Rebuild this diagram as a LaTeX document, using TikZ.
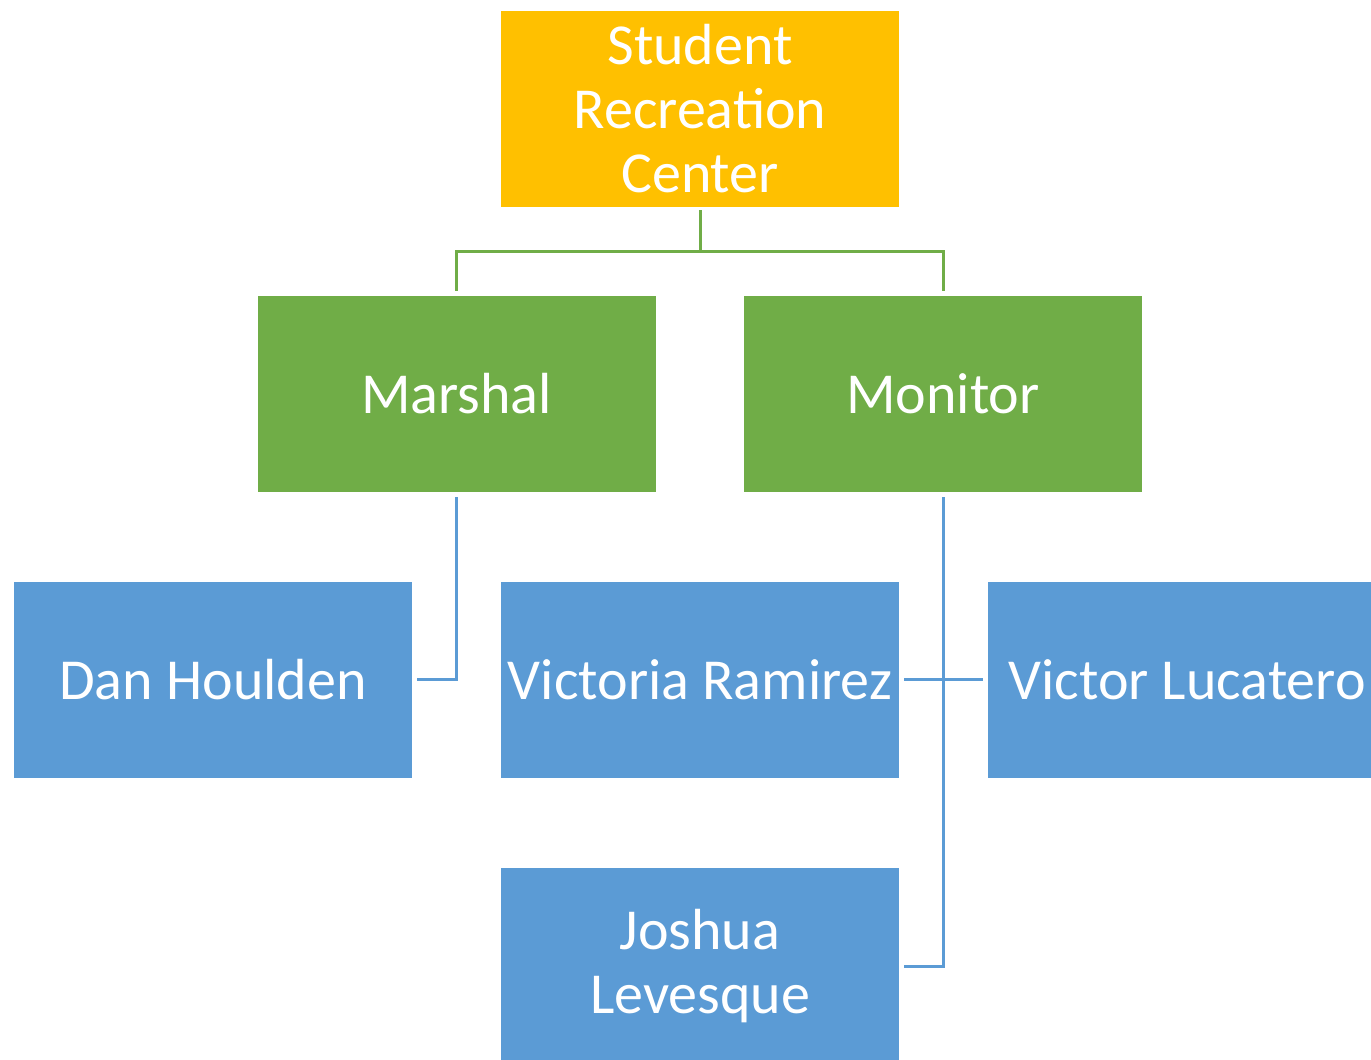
\documentclass[tikz,border=0pt]{standalone}
\usepackage{fontspec}
\setmainfont{Carlito}
\definecolor{orgbox}{HTML}{FFC000}
\definecolor{grnbox}{HTML}{70AD47}
\definecolor{blubox}{HTML}{5B9BD5}
\tikzset{
  orgnode/.style={draw=white, line width=2pt, minimum width=400pt, minimum height=198pt,
    inner sep=0pt, text=white, align=center, font=\fontsize{58}{64}\selectfont},
  lvlone/.style={orgnode, fill=orgbox},
  lvltwo/.style={orgnode, fill=grnbox},
  lvlthree/.style={orgnode, fill=blubox},
  greenlink/.style={draw=grnbox, line width=3pt},
  bluelink/.style={draw=blubox, line width=3pt},
}
\begin{document}
\begin{tikzpicture}[x=1pt,y=-1pt]
\clip (0,0) rectangle (1371,1060);
\fill[white] (0,0) rectangle (1371,1060);
\node[lvlone] (top) at (700,109) {Student\\Recreation\\Center};
\node[lvltwo] (marshal) at (456.5,394) {Marshal};
\node[lvltwo] (monitor) at (943,394) {Monitor};
\node[lvlthree] (dan) at (213,679.5) {Dan Houlden};
\node[lvlthree] (victoria) at (700,679.5) {Victoria Ramirez};
\node[lvlthree] (victor) at (1187,679.5) {Victor Lucatero};
\node[lvlthree] (joshua) at (700,966) {Joshua\\Levesque};
\coordinate (jn) at (700,251);
\draw[greenlink, shorten <=1pt] (top.south) -- (jn);
\draw[greenlink, shorten >=3pt] (jn) -| (marshal.north);
\draw[greenlink, shorten >=3pt] (jn) -| (monitor.north);
\draw[bluelink, shorten <=3pt, shorten >=3pt] (marshal.south) |- (dan.east);
\draw[bluelink, shorten <=3pt, shorten >=3pt] (monitor.south) |- (joshua.east);
\draw[bluelink, shorten <=3pt, shorten >=3pt] (victoria.east) -- (victor.west);
\end{tikzpicture}
\end{document}
